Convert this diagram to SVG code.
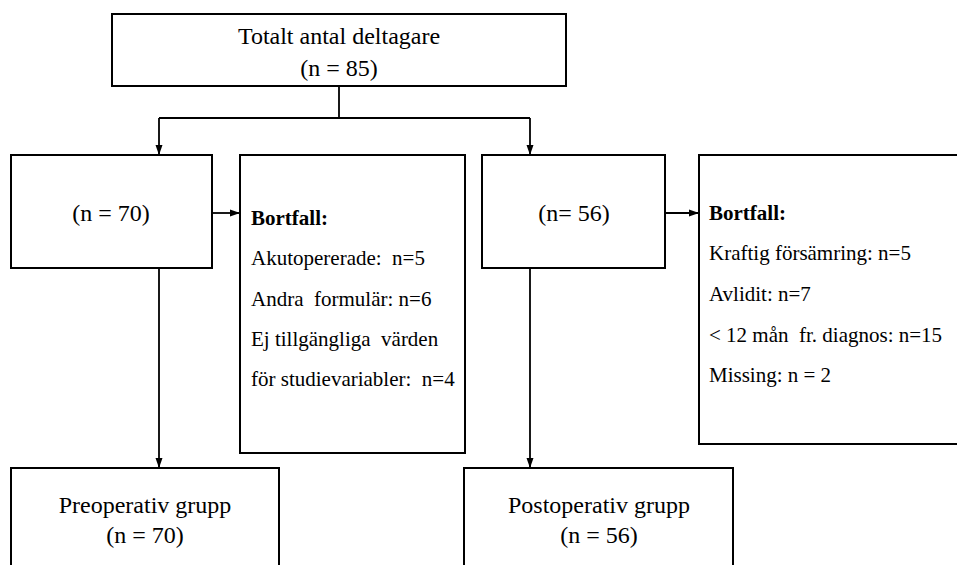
<svg xmlns="http://www.w3.org/2000/svg" width="957" height="565" viewBox="0 0 957 565">
<defs>
<style>
.box{fill:#fff;stroke:#000;stroke-width:2}
.t{font-family:"Liberation Serif","Times New Roman",serif;fill:#000}
.big{font-size:24px;text-anchor:middle}
.sm{font-size:21px}
.b{font-weight:bold}
.c{fill:none;stroke:#000;stroke-width:1.8}
</style>
<marker id="ah" markerUnits="userSpaceOnUse" markerWidth="10" markerHeight="10" viewBox="0 0 10 10" refX="10" refY="5" orient="auto">
<path d="M0,1.5 L10,5 L0,8.5 Z" fill="#000"/>
</marker>
</defs>
<rect width="957" height="565" fill="#fff"/>
<g id="connectors">
<path class="c" d="M339,86 V118"/>
<path class="c" d="M159,118 H530"/>
<path class="c" d="M159,118 V155" marker-end="url(#ah)"/>
<path class="c" d="M530,118 V155" marker-end="url(#ah)"/>
<path class="c" d="M212,213 H240" marker-end="url(#ah)"/>
<path class="c" d="M665,213 H699" marker-end="url(#ah)"/>
<path class="c" d="M159,268 V468" marker-end="url(#ah)"/>
<path class="c" d="M530,268 V468" marker-end="url(#ah)"/>
</g>
<g id="total">
<rect class="box" x="112" y="14" width="454" height="72"/>
<text class="t big" x="339" y="44">Totalt antal deltagare</text>
<text class="t big" x="339" y="76">(n = 85)</text>
</g>
<g id="n70">
<rect class="box" x="11" y="155" width="201" height="113"/>
<text class="t big" x="111" y="221">(n = 70)</text>
</g>
<g id="bortfall1">
<rect class="box" x="240" y="155" width="225" height="298"/>
<text class="t sm b" x="251" y="225">Bortfall:</text>
<text class="t sm" x="251" y="265">Akutopererade:&#160; n=5</text>
<text class="t sm" x="251" y="306">Andra&#160; formulär: n=6</text>
<text class="t sm" x="251" y="346">Ej tillgängliga&#160; värden</text>
<text class="t sm" x="251" y="386">för studievariabler:&#160; n=4</text>
</g>
<g id="n56">
<rect class="box" x="482" y="155" width="183" height="113"/>
<text class="t big" x="574" y="221">(n= 56)</text>
</g>
<g id="bortfall2">
<path class="box" d="M960,155 H699 V444 H960"/>
<text class="t sm b" x="709" y="220">Bortfall:</text>
<text class="t sm" x="709" y="260">Kraftig försämring: n=5</text>
<text class="t sm" x="709" y="301">Avlidit: n=7</text>
<text class="t sm" x="709" y="342">&lt; 12 mån&#160; fr. diagnos: n=15</text>
<text class="t sm" x="709" y="382">Missing: n = 2</text>
</g>
<g id="preop">
<rect class="box" x="11" y="468" width="268" height="110"/>
<text class="t big" x="145" y="513">Preoperativ grupp</text>
<text class="t big" x="145" y="543">(n = 70)</text>
</g>
<g id="postop">
<rect class="box" x="464" y="468" width="269" height="110"/>
<text class="t big" x="599" y="513">Postoperativ grupp</text>
<text class="t big" x="599" y="543">(n = 56)</text>
</g>
</svg>
